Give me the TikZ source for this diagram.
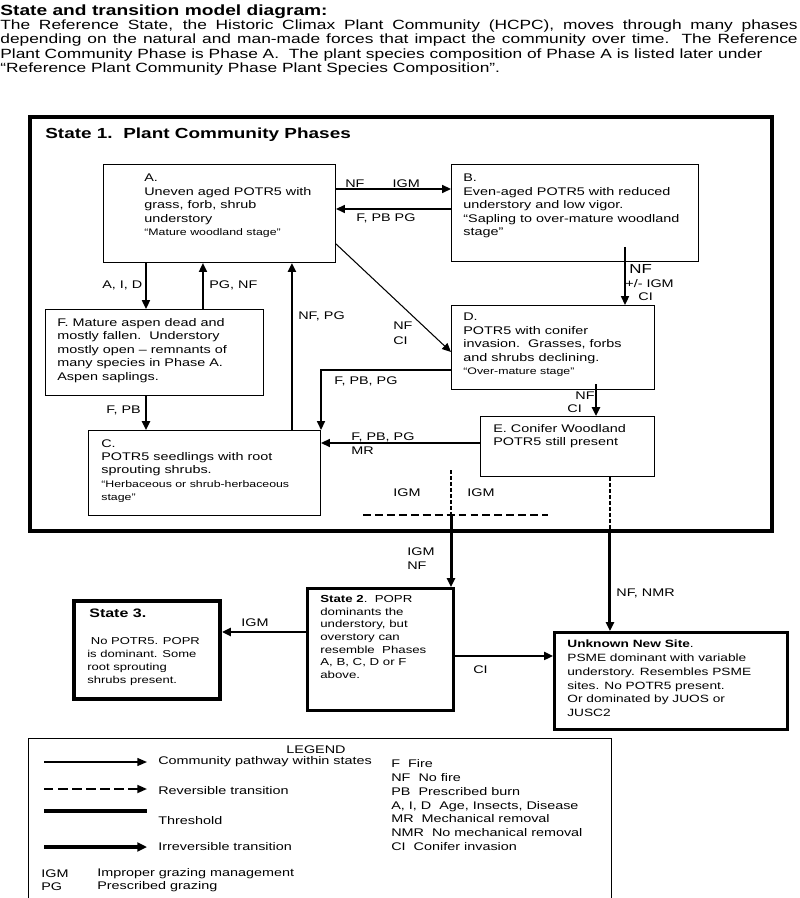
\documentclass[tikz,border=0pt]{standalone}
\usepackage{fontspec}
\setmainfont{Liberation Sans}[FakeStretch=1.3]
\usetikzlibrary{arrows.meta,positioning}

\newcommand{\qsize}{\fontsize{5.4}{7.6}\selectfont}

\tikzset{
  phase/.style={draw, line width=0.6pt, inner sep=0, anchor=north west},
  state/.style={draw, line width=2.3pt, inner sep=0, anchor=north west},
  txt/.style={font=\fontsize{6.3}{7.65}\selectfont, align=left, inner sep=0, anchor=north west},
  lbl/.style={font=\fontsize{6.3}{7.9}\selectfont, align=left, inner sep=0, anchor=west},
  pway/.style={line width=0.8pt, ->},
  rev/.style={line width=1.1pt, dash pattern=on 2.3pt off 1.1pt},
  thresh/.style={line width=1.7pt},
}

\begin{document}
\begin{tikzpicture}[x=0.02cm, y=-0.02cm, >={Triangle[length=5pt,width=4.5pt]}]
    \useasboundingbox (0,0) rectangle (800,898);

    \node[txt, font=\fontsize{8.4}{9}\selectfont\bfseries] (head) at (0,4) {State and transition model diagram:};
    \node[txt, font=\fontsize{7.6}{8.3}\selectfont, text width=15.95cm, align=justify] (intro) at (0,19) {The Reference State, the Historic Climax Plant Community (HCPC), moves through many phases\linebreak depending on the natural and man-made forces that impact the community over time.\ \ The Reference\linebreak Plant Community Phase is Phase A.\ \ The plant species composition of Phase A is listed later under\\“Reference Plant Community Phase Plant Species Composition”.};

    % state 1 and its phases
    \node[state, minimum width=14.84cm, minimum height=8.28cm] (S1) at (28,115) {};
    \node[txt, font=\fontsize{8.3}{9}\selectfont\bfseries] (S1title) at (45,128) {State 1.\ \ Plant Community Phases};

    \node[phase, minimum width=4.64cm, minimum height=1.96cm] (A) at (103,164) {};
    \node[phase, minimum width=4.94cm, minimum height=1.94cm] (B) at (451,164) {};
    \node[phase, minimum width=4.06cm, minimum height=1.68cm] (D) at (451,305) {};
    \node[phase, minimum width=3.48cm, minimum height=1.2cm] (E) at (480,416) {};
    \node[phase, minimum width=4.36cm, minimum height=1.72cm] (F) at (45,309) {};
    \node[phase, minimum width=4.64cm, minimum height=1.7cm] (C) at (88,430) {};

    \node[txt] (Atxt) at ([shift={(41,10)}]A.north west) {A.\\Uneven aged POTR5 with\\grass, forb, shrub\\understory\\{\qsize “Mature woodland stage”}};
    \node[txt] (Btxt) at ([shift={(12,10)}]B.north west) {B.\\Even-aged POTR5 with reduced\\understory and low vigor.\\“Sapling to over-mature woodland\\stage”};
    \node[txt] (Dtxt) at ([shift={(12,8)}]D.north west) {D.\\POTR5 with conifer\\invasion.\ \ Grasses, forbs\\and shrubs declining.\\{\qsize “Over-mature stage”}};
    \node[txt] (Etxt) at ([shift={(13,8)}]E.north west) {E. Conifer Woodland\\POTR5 still present};
    \node[txt] (Ftxt) at ([shift={(12,9)}]F.north west) {F. Mature aspen dead and\\mostly fallen.\ \ Understory\\mostly open -- remnants of\\many species in Phase A.\\Aspen saplings.};
    \node[txt] (Ctxt) at ([shift={(13,9)}]C.north west) {C.\\POTR5 seedlings with root\\sprouting shrubs.\\{\qsize “Herbaceous or shrub-herbaceous}\\{\qsize stage”}};

    % other states
    \node[state, line width=1.8pt, minimum width=2.92cm, minimum height=2.44cm] (S2) at (306,587) {};
    \node[state, minimum width=2.92cm, minimum height=1.96cm] (S3) at (72,599) {};
    \node[state, line width=1.8pt, minimum width=4.66cm, minimum height=1.94cm] (U) at (553,631) {};

    \node[txt, font=\fontsize{5.8}{7.2}\selectfont] (S2txt) at ([shift={(14,8)}]S2.north west) {\textbf{State 2}.\ \ POPR\\dominants the\\understory, but\\overstory can\\resemble\ \ Phases\\A, B, C, D or F\\above.};
    \node[txt, font=\fontsize{7}{8}\selectfont\bfseries] (S3title) at ([shift={(17,10)}]S3.north west) {State 3.};
    \node[txt, font=\fontsize{5.7}{7.4}\selectfont] (S3txt) at ([shift={(15,38)}]S3.north west) {\hspace{2pt}No POTR5. POPR\\is dominant. Some\\root sprouting\\shrubs present.};
    \node[txt, font=\fontsize{6}{7.8}\selectfont] (Utxt) at ([shift={(14,9)}]U.north west) {\textbf{Unknown New Site}.\\PSME dominant with variable\\understory. Resembles PSME\\sites. No POTR5 present.\\Or dominated by JUOS or\\JUSC2};

    % pathways within state 1
    \draw[pway] ([yshift=-0.5cm]A.north east) -- ([yshift=-0.5cm]B.north west);
    \draw[pway] ([yshift=-0.9cm]B.north west) -- ([yshift=-0.9cm]A.north east);
    \draw[pway, line width=0.6pt] ([yshift=-1.6cm]A.north east) -- ([yshift=-0.94cm]D.north west);
    \coordinate (bd) at ([shift={(174,83)}]B.north west);
    \draw[pway, line width=1pt] (bd) -- (bd |- D.north);
    \coordinate (de) at ([shift={(145,79)}]D.north west);
    \draw[pway, line width=1.5pt] (de) -- (de |- E.north);
    \draw[pway] ([yshift=-1.3cm]D.north west) -| (C.north east);
    \coordinate (ec) at ([yshift=-0.54cm]E.north west);
    \draw[pway, line width=1pt] (ec) -- (ec -| C.east);
    \coordinate (af) at ([xshift=0.86cm]A.south west);
    \coordinate (fa) at ([xshift=2cm]A.south west);
    \coordinate (ca) at ([xshift=3.78cm]A.south west);
    \draw[pway, line width=1.1pt] (af) -- (af |- F.north);
    \draw[pway, line width=1.1pt] (fa |- F.north) -- (fa);
    \draw[pway, line width=1.6pt] (ca |- C.north) -- (ca);
    \draw[pway, line width=1.6pt] (af |- F.south) -- (af |- C.north);

    % transitions
    \coordinate (igm) at (451,470);
    \coordinate (thr) at (451,515);
    \coordinate (hl) at (363,515);
    \coordinate (hr) at (548,515);
    \draw[rev] (igm) -- (thr);
    \draw[rev, dash pattern=on 4.5pt off 2.3pt] (hl) -- (hr);
    \draw[thresh, ->] (thr) -- (thr |- S2.north);
    \coordinate (eu) at ([xshift=2.6cm]E.south west);
    \draw[rev] (eu) -- (eu |- S1.south);
    \draw[thresh, ->] (eu |- S1.south) -- (eu |- U.north);
    \coordinate (s23) at ([yshift=-0.9cm]S2.north west);
    \draw[thresh, ->] (s23) -- (s23 -| S3.east);
    \coordinate (s2u) at ([yshift=-1.38cm]S2.north east);
    \draw[pway, line width=1.1pt] (s2u) -- (s2u -| U.west);

    % labels
    \node[lbl] (lAB) at (345,184) {NF\hspace{16pt}IGM};
    \node[lbl] (lBA) at (356,218) {F, PB PG};
    \node[lbl, font=\fontsize{7.4}{8}\selectfont] (lBD1) at (629,269) {NF};
    \node[lbl] (lBD2) at (625,284) {+/- IGM};
    \node[lbl] (lBD3) at (638,297) {CI};
    \node[lbl, font=\fontsize{6.3}{8.3}\selectfont] (lAD) at (393,333) {NF\\CI};
    \node[lbl] (lDC) at (334,381) {F, PB, PG};
    \node[lbl] (lDE1) at (575,396) {NF};
    \node[lbl] (lDE2) at (567,409) {CI};
    \node[lbl] (lEC) at (351,444) {F, PB, PG\\MR};
    \node[lbl] (lAF) at (102,285) {A, I, D};
    \node[lbl] (lFA) at (209,285) {PG, NF};
    \node[lbl] (lCA) at (298,316) {NF, PG};
    \node[lbl] (lFC) at (106,410) {F, PB};
    \node[lbl] (lIGMa) at (393,493) {IGM};
    \node[lbl] (lIGMb) at (467,493) {IGM};
    \node[lbl] (lS2) at (407,559) {IGM\\NF};
    \node[lbl] (lU) at (616,593) {NF, NMR};
    \node[lbl] (lS3) at (241,623) {IGM};
    \node[lbl] (lCI) at (473,670) {CI};

    % legend
    \node[phase, minimum width=11.66cm, minimum height=3.4cm] (leg) at (28,738) {};
    \node[lbl, anchor=center] (legtitle) at (316,750) {LEGEND};
    \node[lbl] (lgpath) at (158,762) {Community pathway within states};
    \node[lbl] (lgrev) at (158,791) {Reversible transition};
    \node[lbl] (lgthr) at (158,821) {Threshold};
    \node[lbl] (lgirr) at (158,847) {Irreversible transition};
    \node[lbl, anchor=north west] (lgabbr) at (391,759) {F\ \ Fire\\NF\ \ No fire\\PB\ \ Prescribed burn\\A, I, D\ \ Age, Insects, Disease\\MR\ \ Mechanical removal\\NMR\ \ No mechanical removal\\CI\ \ Conifer invasion};
    \node[lbl, font=\fontsize{6.3}{7.1}\selectfont] (lgigm) at (41,880) {IGM\\PG};
    \node[lbl, font=\fontsize{6.3}{7.1}\selectfont] (lgigmtxt) at (97,880) {Improper grazing management\\Prescribed grazing};

    \draw[pway, >={Triangle[length=5.5pt,width=4.5pt]}] ([xshift=-2.28cm]lgpath.west) -- ([xshift=-0.22cm]lgpath.west);
    \draw[rev, dash pattern=on 5.4pt off 2.6pt, ->, >={Triangle[length=5.5pt,width=4.5pt]}] ([shift={(-114,-2)}]lgrev.west) -- ([shift={(-11,-2)}]lgrev.west);
    \draw[thresh, line width=2.2pt] ([shift={(-114,-10)}]lgthr.west) -- ([shift={(-11,-10)}]lgthr.west);
    \draw[thresh, line width=2pt, ->, >={Triangle[length=5.5pt,width=5pt]}] ([xshift=-2.28cm]lgirr.west) -- ([xshift=-0.22cm]lgirr.west);
\end{tikzpicture}
\end{document}
